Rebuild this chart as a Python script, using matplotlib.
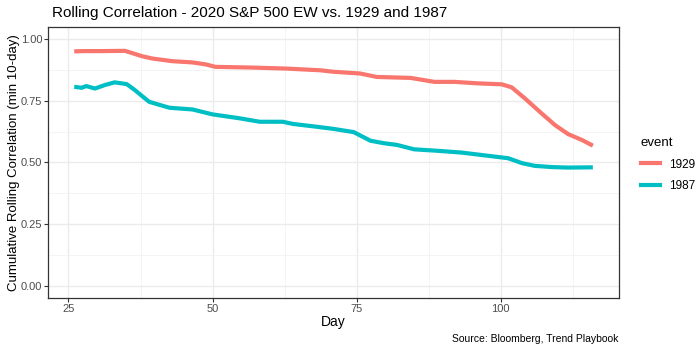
import numpy as np
import matplotlib.pyplot as plt
from matplotlib.ticker import MultipleLocator
from matplotlib.lines import Line2D

plt.rcParams['font.family'] = ['Liberation Sans', 'DejaVu Sans']

# values
days_1929 = [26, 28, 31, 34.8, 37.8, 39.5, 43, 46.5, 48.8, 50.5, 57, 62.8, 68.7,
             71, 75.6, 78.5, 84.4, 88.5, 92, 96, 100.2, 101.9, 104.2, 107.1,
             109.4, 111.7, 114.1, 116]
corr_1929 = [0.951, 0.952, 0.952, 0.953, 0.931, 0.922, 0.911, 0.906, 0.898, 0.888,
             0.885, 0.881, 0.874, 0.868, 0.861, 0.847, 0.843, 0.827, 0.827, 0.821,
             0.817, 0.805, 0.760, 0.699, 0.652, 0.615, 0.591, 0.568]

days_1987 = [26, 27.3, 28.1, 29.6, 31.3, 33, 35.1, 36.5, 39, 42.5, 46.5, 50, 54.7,
             58.2, 62.2, 64, 68, 71, 74.5, 77.4, 79.7, 82, 85, 88.5, 93.2, 96.7,
             101.3, 103.7, 105.9, 108.9, 111.7, 116]
corr_1987 = [0.807, 0.803, 0.810, 0.800, 0.814, 0.825, 0.818, 0.794, 0.746, 0.722,
             0.715, 0.695, 0.679, 0.665, 0.665, 0.656, 0.645, 0.636, 0.623, 0.588,
             0.578, 0.571, 0.553, 0.548, 0.540, 0.530, 0.517, 0.497, 0.486, 0.481,
             0.479, 0.480]

events = ['1929', '1987']
colors = ['#F8766D', '#00BFC4']

fig = plt.figure(figsize=(7, 3.5), dpi=100)
ax = fig.add_axes([0.069, 0.149, 0.815, 0.774])

ax.plot(days_1929, corr_1929, color=colors[0], lw=3, solid_joinstyle='round',
        solid_capstyle='butt', zorder=3)
ax.plot(days_1987, corr_1987, color=colors[1], lw=3, solid_joinstyle='round',
        solid_capstyle='butt', zorder=3)

ax.set_xlim(21.5, 120.5)
ax.set_ylim(-0.05, 1.05)
ax.xaxis.set_major_locator(MultipleLocator(25))
ax.xaxis.set_minor_locator(MultipleLocator(12.5))
ax.yaxis.set_major_locator(MultipleLocator(0.25))
ax.yaxis.set_minor_locator(MultipleLocator(0.125))
ax.yaxis.set_major_formatter(plt.FuncFormatter(lambda v, p: f'{v:.2f}'))

ax.grid(which='major', color='#EBEBEB', lw=1.0)
ax.grid(which='minor', color='#F2F2F2', lw=0.6)
ax.set_axisbelow(True)
for s in ax.spines.values():
    s.set_color('#333333')
    s.set_linewidth(0.9)
ax.tick_params(which='major', length=2.75, pad=1.5, color='#333333',
               labelcolor='#4D4D4D', labelsize=8)
ax.tick_params(which='minor', length=0)

ax.set_xlabel('Day', fontsize=10, color='black', labelpad=1)
ax.set_ylabel('Cumulative Rolling Correlation (min 10-day)', fontsize=9.5,
              color='black', labelpad=1)
fig.text(0.074, 0.963, 'Rolling Correlation - 2020 S&P 500 EW vs. 1929 and 1987',
         fontsize=11, va='center', ha='left')
fig.text(0.884, 0.03, 'Source: Bloomberg, Trend Playbook', fontsize=7.5,
         ha='right', va='center')

handles = [Line2D([0], [0], color=c, lw=3) for c in colors]
leg = fig.legend(handles, events, title='event', loc='center left',
                 bbox_to_anchor=(0.9, 0.53), frameon=False, fontsize=8.5,
                 title_fontsize=9.5, handlelength=1.6, labelspacing=0.8)
leg._legend_box.align = 'left'

fig.savefig('out.png', dpi=100)
